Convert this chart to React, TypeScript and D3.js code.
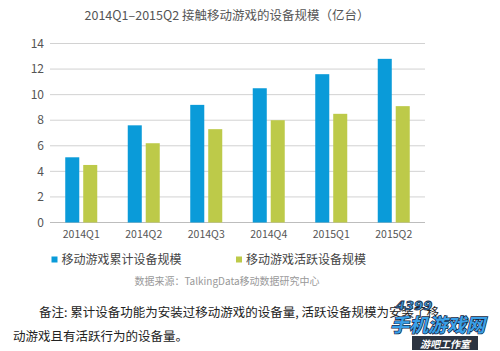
import React from "react";
import * as d3 from "d3";

const quarters = ["2014Q1", "2014Q2", "2014Q3", "2014Q4", "2015Q1", "2015Q2"];
const seriesNames = ["移动游戏累计设备规模", "移动游戏活跃设备规模"];
const cumulative = [5.1, 7.6, 9.2, 10.5, 11.6, 12.8];
const active = [4.5, 6.2, 7.3, 8.0, 8.5, 9.1];
const yTicks = [0, 2, 4, 6, 8, 10, 12, 14];
const colors = ["#0a9bd9", "#bdca49"];

const title = "2014Q1–2015Q2 接触移动游戏的设备规模（亿台）";
const source = "数据来源：TalkingData移动数据研究中心";
const noteLine1 = "备注: 累计设备功能为安装过移动游戏的设备量, 活跃设备规模为安装了移";
const noteLine2 = "动游戏且有活跃行为的设备量。";

const W = 500;
const H = 351;
const font = "'Noto Sans CJK SC', 'Noto Sans', sans-serif";

const App: React.FC = () => {
  const x = d3.scaleBand<string>().domain(quarters).range([50, 425]).padding(0);
  const x1 = d3
    .scaleBand<string>()
    .domain(seriesNames)
    .range([-16, 16])
    .paddingInner(0.22);
  const y = d3.scaleLinear().domain([0, 14]).range([222.5, 43.5]);

  const series = [cumulative, active];

  return (
    <svg
      width={W}
      height={H}
      style={{ position: "absolute", left: 0, top: 0, background: "#fff" }}
      fontFamily={font}
    >
      <rect width={W} height={H} fill="#fff" />
      <text x={227} y={19.5} textAnchor="middle" fontSize={12.5} fill="#555">
        {title}
      </text>

      {yTicks.map((t) => (
        <g key={t}>
          <line
            x1={50}
            x2={425}
            y1={y(t)}
            y2={y(t)}
            stroke={t === 0 ? "#bdbdbd" : "#d2d2d2"}
            strokeWidth={1}
          />
          <text
            x={44}
            y={y(t)}
            dy="0.35em"
            textAnchor="end"
            fontSize={12}
            fill="#555"
          >
            {t}
          </text>
        </g>
      ))}

      {quarters.map((q, i) => {
        const cx = (x(q) ?? 0) + x.bandwidth() / 2;
        return (
          <g key={q}>
            {series.map((s, j) => (
              <rect
                key={j}
                x={cx + (x1(seriesNames[j]) ?? 0)}
                y={y(s[i])}
                width={x1.bandwidth()}
                height={y(0) - y(s[i])}
                fill={colors[j]}
              />
            ))}
            <text
              x={cx}
              y={237.5}
              textAnchor="middle"
              fontSize={10.5}
              fill="#555"
            >
              {q}
            </text>
          </g>
        );
      })}

      {seriesNames.map((name, j) => {
        const lx = j === 0 ? 51.5 : 236;
        return (
          <g key={name}>
            <rect x={lx} y={256.5} width={6} height={6} fill={colors[j]} />
            <text x={lx + 10} y={264} fontSize={12} fill="#444">
              {name}
            </text>
          </g>
        );
      })}

      <text x={227} y={284.5} textAnchor="middle" fontSize={10} fill="#999">
        {source}
      </text>

      <text x={39} y={317} fontSize={12.5} fill="#222">
        {noteLine1}
      </text>
      <text x={13} y={341} fontSize={12.5} fill="#222">
        {noteLine2}
      </text>

      {/* watermark */}
      <g fontStyle="italic" fontWeight="bold">
        <text
          x={396}
          y={310}
          fontSize={13}
          fill="#3a9be0"
          stroke="#1a2a44"
          strokeWidth={0.8}
          fontFamily="'DejaVu Sans', sans-serif"
        >
          4399
        </text>
        <text
          x={390}
          y={332}
          fontSize={19}
          fill="#3aa0e8"
          stroke="#14243c"
          strokeWidth={1.4}
          paintOrder="stroke"
        >
          手机游戏网
        </text>
        <rect x={412} y={336} width={66} height={14} fill="#2c3440" />
        <text x={445} y={347.5} textAnchor="middle" fontSize={10} fill="#fff">
          游吧工作室
        </text>
      </g>
    </svg>
  );
};

export default App;
